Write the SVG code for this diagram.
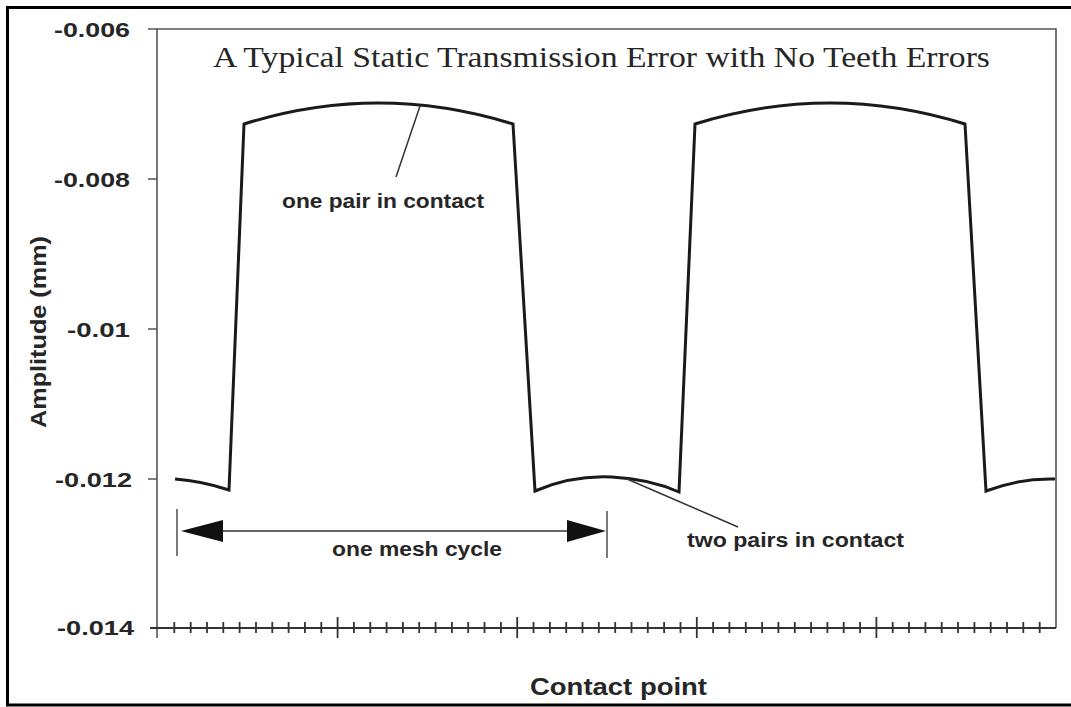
<svg xmlns="http://www.w3.org/2000/svg" width="1071" height="707" viewBox="0 0 1071 707">
<style>
.frame{fill:none;stroke:#000;stroke-width:3}
.axis{fill:none;stroke:#555;stroke-width:1.6}
.tick{fill:none;stroke:#333;stroke-width:1.8}
.curve{fill:none;stroke:#1a1a1a;stroke-width:3;stroke-linejoin:miter}
.lead{fill:none;stroke:#333;stroke-width:1.5}
.dim{fill:none;stroke:#333;stroke-width:1.3}
.arrow{fill:#111}
.lbl{font-family:"Liberation Sans",Arial,sans-serif;font-weight:bold;fill:#262626}
.ylab{font-size:21px;text-anchor:end}
.ann{font-size:20px}
.title{font-family:"Liberation Serif","Times New Roman",serif;font-size:29px;fill:#262626}
</style>
<rect width="1071" height="707" fill="#fff"/>
<path class="frame" d="M1071,7.5 H7.5 V705 H1071"/>
<g id="title"><text class="title" x="213" y="67" textLength="777" lengthAdjust="spacingAndGlyphs">A Typical Static Transmission Error with No Teeth Errors</text></g>
<g id="plot-frame">
<path class="axis" d="M157,638 V29 H1056 V628"/>
<path class="tick" d="M150,628 H1056"/>
<path class="axis" d="M148,29 H157 M148,179 H157 M148,329 H157 M148,479 H157"/>
</g>
<g id="x-ticks">
<path class="tick" d="M174.3,622v11M190.7,622v11M207,622v11M223.3,622v11M239.6,622v11M256,622v11M272.3,622v11M288.6,622v11M304.9,622v11M321.3,622v11M353.9,622v11M370.3,622v11M386.6,622v11M402.9,622v11M419.2,622v11M435.6,622v11M451.9,622v11M468.2,622v11M484.5,622v11M500.9,622v11M533.5,622v11M549.9,622v11M566.2,622v11M582.5,622v11M598.8,622v11M615.2,622v11M631.5,622v11M647.8,622v11M664.1,622v11M680.5,622v11M713.1,622v11M729.4,622v11M745.8,622v11M762.1,622v11M778.4,622v11M794.8,622v11M811.1,622v11M827.4,622v11M843.7,622v11M860.1,622v11M892.7,622v11M909,622v11M925.4,622v11M941.7,622v11M958,622v11M974.4,622v11M990.7,622v11M1007,622v11M1023.3,622v11M1039.7,622v11"/>
<path class="tick" d="M337.6,617v21M517.2,617v21M696.8,617v21M876.4,617v21"/>
</g>
<g id="y-labels">
<text class="lbl ylab" x="130" y="37" textLength="76" lengthAdjust="spacingAndGlyphs">-0.006</text>
<text class="lbl ylab" x="130" y="187" textLength="76" lengthAdjust="spacingAndGlyphs">-0.008</text>
<text class="lbl ylab" x="130" y="337" textLength="63" lengthAdjust="spacingAndGlyphs">-0.01</text>
<text class="lbl ylab" x="132" y="487" textLength="77" lengthAdjust="spacingAndGlyphs">-0.012</text>
<text class="lbl ylab" x="134" y="635" textLength="77" lengthAdjust="spacingAndGlyphs">-0.014</text>
</g>
<g id="axis-titles">
<text class="lbl" x="530" y="695" font-size="24" textLength="177" lengthAdjust="spacingAndGlyphs">Contact point</text>
<text class="lbl" transform="translate(46,428) rotate(-90)" x="0" y="0" font-size="22" textLength="192" lengthAdjust="spacingAndGlyphs">Amplitude (mm)</text>
</g>
<g id="curve">
<path class="curve" d="M175,479 Q202,481 229,490 L244,124 Q378,82 513,124 L535,491 Q572,475 612,477 Q650,479 679,492 L695,124 Q830,82 965,124 L986,491 Q1020,478 1055,479"/>
</g>
<g id="connectors">
<path class="lead" d="M420,106 L396,177"/>
<path class="lead" d="M627,479 L738,527"/>
<path class="dim" d="M177,509 V556 M607,511 V558"/>
<path class="dim" d="M223,531 H567"/>
<path class="arrow" d="M181,531 L223,520 L223,542 Z"/>
<path class="arrow" d="M606,531 L567,520 L567,542 Z"/>
</g>
<g id="annotations">
<text class="lbl ann" x="282" y="208" textLength="202" lengthAdjust="spacingAndGlyphs">one pair in contact</text>
<text class="lbl ann" x="332" y="556" textLength="170" lengthAdjust="spacingAndGlyphs">one mesh cycle</text>
<text class="lbl ann" x="687" y="547" textLength="217" lengthAdjust="spacingAndGlyphs">two pairs in contact</text>
</g>
</svg>
